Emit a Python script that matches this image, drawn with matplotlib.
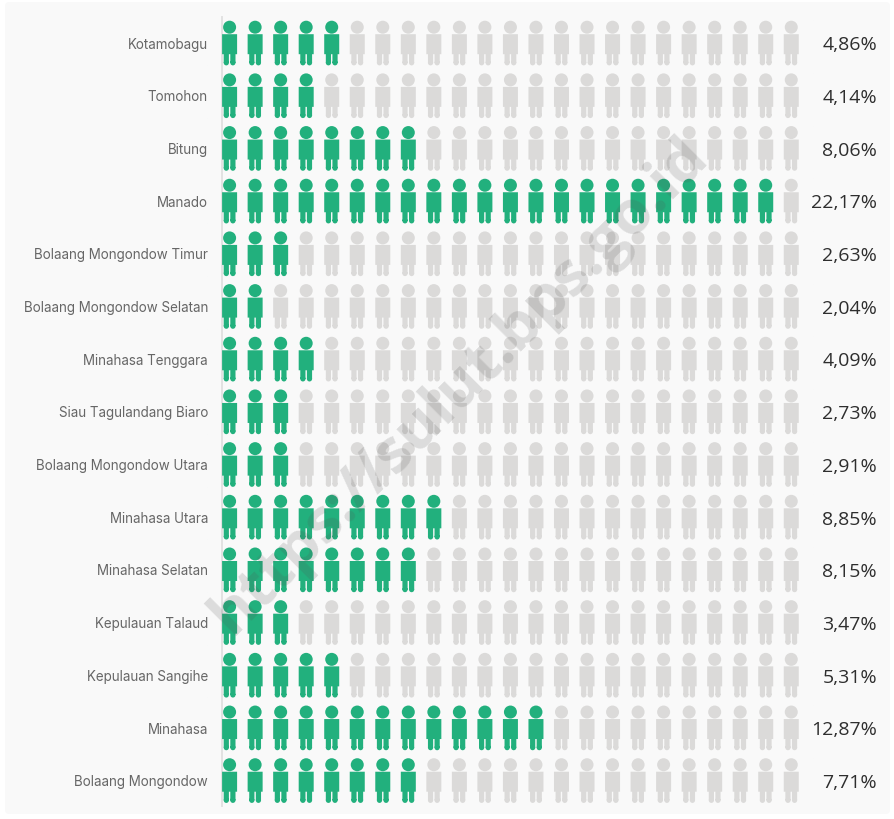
#!/usr/bin/env python3
"""Icon chart: share of population per kabupaten/kota, North Sulawesi."""
import matplotlib
matplotlib.use("Agg")
import matplotlib.pyplot as plt
import numpy as np
from matplotlib.patches import FancyBboxPatch
from matplotlib.path import Path

regions = ["Kotamobagu", "Tomohon", "Bitung", "Manado", "Bolaang Mongondow Timur",
           "Bolaang Mongondow Selatan", "Minahasa Tenggara", "Siau Tagulandang Biaro",
           "Bolaang Mongondow Utara", "Minahasa Utara", "Minahasa Selatan",
           "Kepulauan Talaud", "Kepulauan Sangihe", "Minahasa", "Bolaang Mongondow"]
shares = [4.86, 4.14, 8.06, 22.17, 2.63, 2.04, 4.09, 2.73, 2.91, 8.85, 8.15, 3.47,
          5.31, 12.87, 7.71]
filled = [5, 4, 8, 22, 3, 2, 4, 3, 3, 9, 8, 3, 5, 13, 8]
n_icons = 23

C_ON, C_OFF = "#22b07d", "#dbdad9"
W, H = 894, 820
X0, DX = 229.6, 25.53
Y0, DY = 44.2, 52.68


def _rect(x0, y0, x1, y1):
    return Path([(x0, y0), (x1, y0), (x1, y1), (x0, y1), (x0, y0)], closed=True)


def _circle(cx, cy, r):
    return Path(Path.unit_circle().vertices * r + (cx, cy), Path.unit_circle().codes)


def person_marker():
    # units are px, centred on the figure; y up
    parts = [
        _circle(0, 16.0, 6.5),
        _rect(-7.5, -11.0, 7.5, 9.0),
        _rect(-5.9, -19.6, -0.7, -11.0), _circle(-3.3, -19.6, 2.6),
        _rect(0.7, -19.6, 5.9, -11.0), _circle(3.3, -19.6, 2.6),
        _rect(-22.5, -22.5, -22.4, -22.4), _rect(22.4, 22.4, 22.5, 22.5),  # keep scale
    ]
    return Path.make_compound_path(*parts)


fig = plt.figure(figsize=(W / 100, H / 100), dpi=100, facecolor="white")
ax = fig.add_axes([0, 0, 1, 1])
ax.set_xlim(0, W)
ax.set_ylim(H, 0)
ax.axis("off")

ax.add_patch(FancyBboxPatch((5, 3), 885, 812, boxstyle="round,pad=0,rounding_size=4",
                            fc="#f9f9f9", ec="none", zorder=0))
ax.plot([222, 222], [18, 807], color="#e2e2e2", lw=1.4, zorder=1)

marker = person_marker()
size = (45 * 0.72) ** 2  # 45 px glyph span
rows = np.arange(len(regions))
for r, name, share, k in zip(rows, regions, shares, filled):
    y = Y0 + r * DY
    xs = X0 + np.arange(n_icons) * DX
    colors = [C_ON if i < k else C_OFF for i in range(n_icons)]
    ax.scatter(xs, np.full(n_icons, y), s=size, marker=marker, c=colors, linewidths=0,
               zorder=2)
    ax.text(208, y + 0.5, name, ha="right", va="center", fontsize=9.65, family="Inter",
            color="#666666")
    ax.text(877, y + 1.2, f"{share:.2f}%".replace(".", ","), ha="right", va="center",
            fontsize=14, family="Open Sans", color="#2e2e2e")

ax.text(460, 386, "https://sulut.bps.go.id", rotation=45, rotation_mode="anchor",
        ha="center", va="center", fontsize=44, fontweight="bold", family="Open Sans",
        color="#555555", alpha=0.18, zorder=3)

fig.savefig("out.png", dpi=100, facecolor="white")
